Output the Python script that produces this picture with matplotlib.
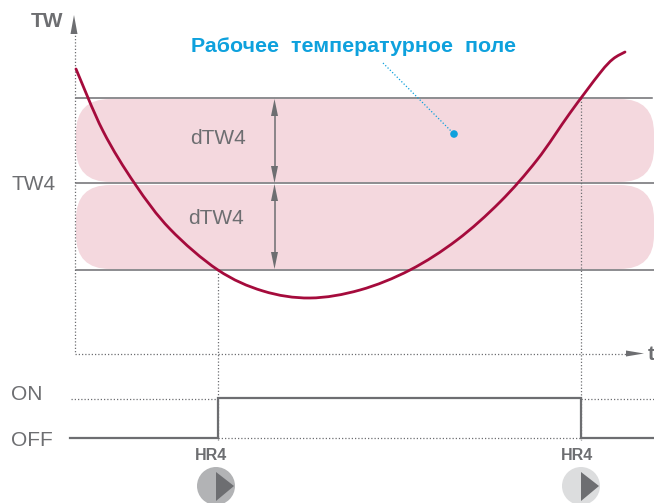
import matplotlib
matplotlib.use("Agg")
import matplotlib.pyplot as plt
from matplotlib.patches import FancyBboxPatch, Circle, Polygon, PathPatch
from matplotlib.path import Path

plt.rcParams['font.family'] = ['Liberation Sans', 'DejaVu Sans']

GREY = '#6d6e71'
RED = '#a50b3c'
PINK = '#f4d8de'
BLUE = '#0ea1dd'

# curve, in image pixels
curve_x = [76, 103, 135, 170, 218, 263, 310, 360, 410, 457, 500, 537, 570, 600, 613, 625]
curve_y = [69, 131, 184, 229, 270, 291, 298, 290, 270, 240, 202, 160, 113, 73, 59, 52]

levels_y = [98, 183, 270]
band_labels = ['dTW4', 'dTW4']
switch_x = [70, 218, 218, 581, 581, 654]
switch_y = [438, 438, 398, 398, 438, 438]
hr_x = [218, 581]
hr_top = [270, 98]


def smooth_path(xs, ys):
    # catmull-rom through the read points, written as bezier segments
    pts = list(zip(xs, ys))
    verts = [pts[0]]
    codes = [Path.MOVETO]
    for i in range(len(pts) - 1):
        p0 = pts[max(i - 1, 0)]
        p1 = pts[i]
        p2 = pts[i + 1]
        p3 = pts[min(i + 2, len(pts) - 1)]
        c1 = (p1[0] + (p2[0] - p0[0]) / 6, p1[1] + (p2[1] - p0[1]) / 6)
        c2 = (p2[0] - (p3[0] - p1[0]) / 6, p2[1] - (p3[1] - p1[1]) / 6)
        verts += [c1, c2, p2]
        codes += [Path.CURVE4, Path.CURVE4, Path.CURVE4]
    return Path(verts, codes)


fig = plt.figure(figsize=(6.54, 5.03), dpi=100)
ax = fig.add_axes([0, 0, 1, 1])
ax.set_xlim(0, 654)
ax.set_ylim(503, 0)
ax.axis('off')

# pink working bands
for top, bottom in [(99, 182), (185, 269)]:
    r = 34
    ax.add_patch(FancyBboxPatch((76 + r, top + r), 654 - 76 - 2 * r, bottom - top - 2 * r,
                                boxstyle=f'round,pad={r},rounding_size={r}',
                                fc=PINK, ec='none', zorder=1))

for y, x_end in zip(levels_y, [652, 654, 654]):
    ax.plot([76, x_end], [y, y], color=GREY, lw=1.1, zorder=2)

# dotted axes and guides
dots = (0, (1, 1.6))
ax.plot([74.5, 74.5], [32, 353], color=GREY, lw=0.9, ls=dots, zorder=2)
ax.plot([74.5, 628], [353.5, 353.5], color=GREY, lw=0.9, ls=dots, zorder=2)
for x, top in zip(hr_x, hr_top):
    ax.plot([x, x], [top, 440], color=GREY, lw=0.9, ls=dots, zorder=2)
ax.plot([71, 218], [399, 399], color=GREY, lw=0.9, ls=dots, zorder=2)
ax.plot([581, 654], [399, 399], color=GREY, lw=0.9, ls=dots, zorder=2)
ax.plot([218, 581], [438, 438], color=GREY, lw=0.9, ls=dots, zorder=2)

ax.add_patch(Polygon([(74, 15), (70.5, 34), (77.5, 34)], fc=GREY, ec='none', zorder=3))
ax.add_patch(Polygon([(644, 353.5), (626, 350.5), (626, 356.5)], fc=GREY, ec='none', zorder=3))

# double arrows for dTW4
for top, bottom in [(99, 183), (184, 269)]:
    ax.plot([274.5, 274.5], [top + 10, bottom - 10], color=GREY, lw=1.1, zorder=3)
    ax.add_patch(Polygon([(274.5, top), (271, top + 17), (278, top + 17)], fc=GREY, ec='none', zorder=3))
    ax.add_patch(Polygon([(274.5, bottom), (271, bottom - 17), (278, bottom - 17)], fc=GREY, ec='none', zorder=3))

ax.add_patch(PathPatch(smooth_path(curve_x, curve_y), fc='none', ec=RED, lw=2.0, capstyle='round', zorder=4))
ax.plot(switch_x, switch_y, color=GREY, lw=1.6, solid_joinstyle='miter', zorder=3)

# blue callout
ax.plot([383, 453], [63, 133], color=BLUE, lw=0.9, ls=dots, zorder=3)
ax.add_patch(Circle((454, 134), 3.8, fc=BLUE, ec='none', zorder=5))
ax.text(353.5, 46, 'Рабочее  температурное  поле', color=BLUE, fontsize=15.4, fontweight='bold',
        ha='center', va='center')

# play buttons
for cx, face in zip(hr_x, ['#b2b3b5', '#dcddde']):
    ax.add_patch(Circle((cx - 2 if cx == 218 else cx, 486), 19, fc=face, ec='none', zorder=3))
    x0 = 216 if cx == 218 else 581
    ax.add_patch(Polygon([(x0, 472), (x0 + 18, 486), (x0, 501)], fc=GREY, ec='none', zorder=4))

ax.text(31, 21, 'TW', color=GREY, fontsize=15, fontweight='bold', va='center')
ax.text(11, 184, 'TW4', color=GREY, fontsize=15, va='center')
ax.text(190, 139, band_labels[0], color=GREY, fontsize=15, va='center')
ax.text(188, 219, band_labels[1], color=GREY, fontsize=15, va='center')
ax.text(11, 394, 'ON', color=GREY, fontsize=15, va='center')
ax.text(11, 441, 'OFF', color=GREY, fontsize=15, va='center')
ax.text(211, 455, 'HR4', color=GREY, fontsize=11.5, fontweight='bold', ha='center', va='center')
ax.text(577, 455, 'HR4', color=GREY, fontsize=11.5, fontweight='bold', ha='center', va='center')
ax.text(648, 354, 't', color=GREY, fontsize=15, fontweight='bold', va='center')

fig.savefig('out.png', dpi=100)
